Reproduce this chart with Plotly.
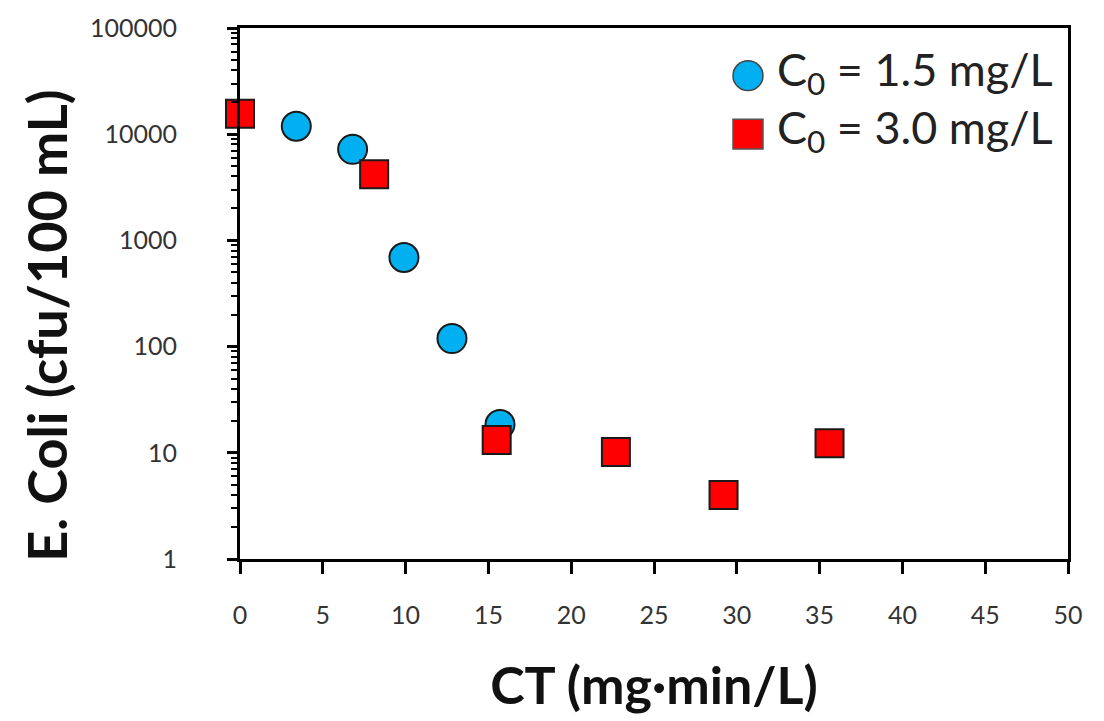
import plotly.graph_objects as go

# Series data
ct_15 = [3.4, 6.8, 9.9, 12.8, 15.7]
ecoli_15 = [11900, 7200, 690, 119, 18.5]

ct_30 = [0.0, 8.1, 15.5, 22.7, 29.2, 35.6]
ecoli_30 = [15600, 4200, 13.2, 10.2, 4.0, 12.3]

y_tickvals = [1, 10, 100, 1000, 10000, 100000]
y_ticktext = ["1", "10", "100", "1000", "10000", "100000"]
x_tickvals = [0, 5, 10, 15, 20, 25, 30, 35, 40, 45, 50]

series_names = ["C<sub>0</sub> = 1.5 mg/L", "C<sub>0</sub> = 3.0 mg/L"]
BLUE = "#00B0F0"
RED = "#FF0000"
FONT = "Lato"
EDGE = "#1a1a1a"

# plot area in pixels
L, R, T, B = 240, 36, 24, 162
W, H = 1104, 721
PW, PH = W - L - R, H - T - B


def px_x(p):
    return (p - L) / PW


def px_y(p):
    return (H - B - p) / PH


fig = go.Figure()
fig.add_trace(go.Scatter(
    x=ct_15, y=ecoli_15, mode="markers", name=series_names[0],
    marker=dict(symbol="circle", size=29, color=BLUE, line=dict(color=EDGE, width=2)),
    cliponaxis=False, showlegend=False,
))
fig.add_trace(go.Scatter(
    x=ct_30, y=ecoli_30, mode="markers", name=series_names[1],
    marker=dict(symbol="square", size=28, color=RED, line=dict(color=EDGE, width=2)),
    cliponaxis=False, showlegend=False,
))

# Legend (drawn large, as in the reference)
legend_rows = [(72, "circle", BLUE), (131, "rect", RED)]
shapes = []
annotations = []
for (cy, kind, col), name in zip(legend_rows, series_names):
    r = 15
    shapes.append(dict(
        type=kind, xref="paper", yref="paper",
        x0=px_x(748 - r), x1=px_x(748 + r), y0=px_y(cy + r), y1=px_y(cy - r),
        fillcolor=col, line=dict(color="#555555" if kind == "rect" else "#444444", width=1.5),
        layer="above",
    ))
    annotations.append(dict(
        text=name, xref="paper", yref="paper", x=px_x(775), y=px_y(cy - 4),
        xanchor="left", yanchor="middle", showarrow=False,
        font=dict(family=FONT, size=45, color="#222222"),
    ))

annotations.append(dict(
    text="<b>E. Coli (cfu/100 mL)</b>", xref="paper", yref="paper",
    x=px_x(47), y=px_y(324), xanchor="center", yanchor="middle", textangle=-90,
    showarrow=False, font=dict(family=FONT, size=54, color="#111111"),
))

fig.update_layout(
    width=W, height=H,
    margin=dict(l=L, r=R, t=T, b=B),
    paper_bgcolor="white", plot_bgcolor="white",
    font=dict(family=FONT, color="#222222"),
    showlegend=False,
    shapes=shapes,
    annotations=annotations,
)

fig.update_xaxes(
    range=[0, 50], tickvals=x_tickvals, ticktext=[str(v) for v in x_tickvals],
    showgrid=False, zeroline=False,
    showline=True, linecolor="black", linewidth=3, mirror=True,
    ticks="outside", ticklen=12, tickwidth=3, tickcolor="black",
    tickfont=dict(family=FONT, size=25, color="#333333"),
    ticklabelstandoff=20,
    title=dict(text="<b>CT (mg·min/L)</b>", font=dict(family=FONT, size=52, color="#111111"), standoff=40),
)

fig.update_yaxes(
    type="log", range=[0, 5], tickvals=y_tickvals, ticktext=y_ticktext,
    showgrid=False, zeroline=False,
    showline=True, linecolor="black", linewidth=3, mirror=True,
    ticks="outside", ticklen=10, tickwidth=3, tickcolor="black",
    minor=dict(ticks="outside", ticklen=6, tickwidth=2, tickcolor="black", dtick="D1", showgrid=False),
    tickfont=dict(family=FONT, size=25, color="#333333"),
    ticklabelstandoff=45,
)

fig.write_html("out.html")
